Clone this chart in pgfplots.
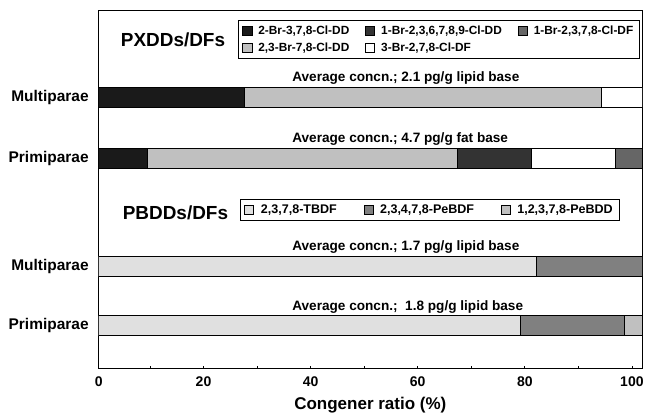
\documentclass[border=0pt]{standalone}
\usepackage{fontspec}
\setmainfont{Liberation Sans}
\usepackage{pgfplots}
\pgfplotsset{compat=1.18}

\definecolor{cA}{HTML}{1A1A1A}
\definecolor{cB}{HTML}{333333}
\definecolor{cC}{HTML}{666666}
\definecolor{cD}{HTML}{C0C0C0}
\definecolor{cE}{HTML}{FFFFFF}
\definecolor{cF}{HTML}{E0E0E0}
\definecolor{cG}{HTML}{808080}
\definecolor{cH}{HTML}{C0C0C0}

\pgfplotsset{
  base/.style={
    scale only axis, width=407.5pt, height=268pt,
    xmin=0, xmax=100, ymin=0, ymax=357.3,
    xbar stacked, bar width=20,
    /pgf/number format/assume math mode=true,
    axis line style={line width=0.75pt},
  },
  sq/.style={legend image code/.code={\draw[##1, line width=0.6pt] (0pt,-3.4pt) rectangle (6.8pt,3.4pt);}},
  seg/.style={fill=#1, draw=black, line width=0.75pt},
}

\begin{document}
\begin{tikzpicture}
\begin{axis}[base,
  % tick marks placed where the reference draws them
  xtick={0,19.30,39.01,58.72,78.43,98.14},
  xticklabels={0,20,40,60,80,100},
  minor xtick={9.45,29.16,48.87,68.58,88.29},
  xtick pos=left,
  tick align=inside,
  major tick length=1.5pt, minor tick length=1.5pt,
  tick style={black, line width=0.6pt},
  ytick={42.6,102,210,271},
  yticklabels={Primiparae,Multiparae,Primiparae,Multiparae},
  ytick style={draw=none},
  yticklabel style={font=\fontsize{11.6}{13}\selectfont\bfseries, xshift=-4pt},
  xticklabel style={font=\fontsize{10.5}{12}\selectfont\bfseries, yshift=-2.5pt},
  xlabel={Congener ratio (\%)},
  xlabel style={font=\fontsize{12.75}{14}\selectfont\bfseries, yshift=-1.5pt},
  legend columns=3,
  legend cell align=left,
  legend style={at={(0.2564,0.975)}, anchor=north west,
    draw=black, line width=0.75pt,
    font=\fontsize{8.9}{10}\selectfont\bfseries,
    /tikz/every odd column/.append style={column sep=2.5pt},
    /tikz/every even column/.append style={column sep=10pt},
    row sep=1pt},
  sq,
]
\addlegendimage{fill=cA, draw=black}
\addlegendentry{2-Br-3,7,8-Cl-DD}
\addlegendimage{fill=cB, draw=black}
\addlegendentry{1-Br-2,3,6,7,8,9-Cl-DD}
\addlegendimage{fill=cC, draw=black}
\addlegendentry{1-Br-2,3,7,8-Cl-DF}
\addlegendimage{fill=cD, draw=black}
\addlegendentry{2,3-Br-7,8-Cl-DD}
\addlegendimage{fill=cE, draw=black}
\addlegendentry{3-Br-2,7,8-Cl-DF}

% stack order: 2-Br-3,7,8-Cl-DD | 2,3-Br-7,8-Cl-DD | 1-Br-2,3,6,7,8,9-Cl-DD | 3-Br-2,7,8-Cl-DF | 1-Br-2,3,7,8-Cl-DF
\addplot[seg=cA] coordinates {(26.9,271) (9.0,210)};
\addplot[seg=cD] coordinates {(65.6,271) (57.1,210)};
\addplot[seg=cB] coordinates {(0,271) (13.5,210)};
\addplot[seg=cE] coordinates {(7.5,271) (15.6,210)};
\addplot[seg=cC] coordinates {(0,271) (4.8,210)};

\node[anchor=base west, inner sep=0, font=\fontsize{14.2}{16}\selectfont\bfseries] at (axis cs:4.05,322.3) {PXDDs/DFs};
\node[anchor=base west, inner sep=0, font=\fontsize{10.2}{12}\selectfont\bfseries] at (axis cs:35.6,286.7) {Average concn.; 2.1 pg/g lipid base};
\node[anchor=base west, inner sep=0, font=\fontsize{10.2}{12}\selectfont\bfseries] at (axis cs:35.6,225.7) {Average concn.; 4.7 pg/g fat base};
\node[anchor=base west, inner sep=0, font=\fontsize{10.2}{12}\selectfont\bfseries] at (axis cs:35.6,117.7) {Average concn.; 1.7 pg/g lipid base};
\node[anchor=base west, inner sep=0, font=\fontsize{10.2}{12}\selectfont\bfseries] at (axis cs:35.6,58.3) {Average concn.;\ \ 1.8 pg/g lipid base};
\node[anchor=base west, inner sep=0, font=\fontsize{14.2}{16}\selectfont\bfseries] at (axis cs:4.4,149.3) {PBDDs/DFs};
\end{axis}

\begin{axis}[base, hide axis,
  legend columns=3,
  legend cell align=left,
  legend style={at={(0.260,0.4747)}, anchor=north west,
    draw=black, line width=0.75pt,
    font=\fontsize{9.4}{10}\selectfont\bfseries,
    /tikz/every odd column/.append style={column sep=3pt},
    /tikz/every even column/.append style={column sep=18pt}},
  sq,
]
\addlegendimage{fill=cF, draw=black}
\addlegendentry{2,3,7,8-TBDF}
\addlegendimage{fill=cG, draw=black}
\addlegendentry{2,3,4,7,8-PeBDF}
\addlegendimage{fill=cH, draw=black}
\addlegendentry{1,2,3,7,8-PeBDD}

% stack order: 2,3,7,8-TBDF | 2,3,4,7,8-PeBDF | 1,2,3,7,8-PeBDD
\addplot[seg=cF] coordinates {(80.5,102) (77.7,42.6)};
\addplot[seg=cG] coordinates {(19.5,102) (19.0,42.6)};
\addplot[seg=cH] coordinates {(0,102) (3.3,42.6)};
\end{axis}

\path (current axis.south west) ++(-74pt,-35pt) coordinate (bbA);
\path (current axis.north east) ++(5.25pt,8.25pt) coordinate (bbB);
\path (bbA) rectangle (bbB);
\end{tikzpicture}
\end{document}
